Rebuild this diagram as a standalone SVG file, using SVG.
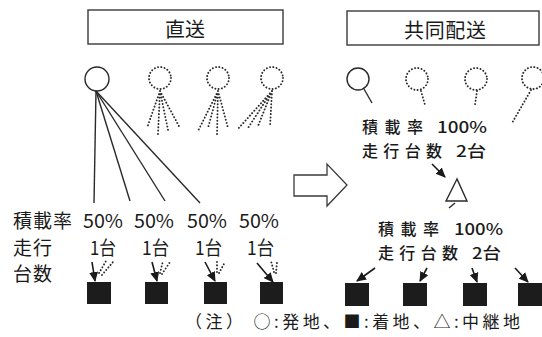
<svg xmlns="http://www.w3.org/2000/svg" width="542" height="337" viewBox="0 0 542 337">
<style>
  text { font-family: "Noto Sans CJK JP", "Noto Sans", sans-serif; fill: #1a1a1a; }
  .lbl { font-size: 19px; }
  .lbr { font-size: 16px; font-weight: 500; }
  .ttl { font-size: 20px; }
  .box { fill: #fff; stroke: #3a3a3a; stroke-width: 1.4; }
  .solid { fill: none; stroke: #2a2a2a; stroke-width: 1.4; }
  .dot { fill: none; stroke: #2a2a2a; stroke-width: 1.9; stroke-dasharray: 0.1 3.2; stroke-linecap: round; }
  .arr { fill: none; stroke: #1a1a1a; stroke-width: 1.6; marker-end: url(#ah); }
  .sq { fill: #1c1c1c; }
</style>
<defs>
  <marker id="ah" markerWidth="10" markerHeight="10" refX="9" refY="5" orient="auto" markerUnits="userSpaceOnUse">
    <path d="M0,0.5 L10,5 L0,9.5 Z" fill="#1a1a1a"/>
  </marker>
</defs>
<rect width="542" height="337" fill="#fff"/>

<g id="title-direct">
  <rect class="box" x="88" y="10" width="195" height="34"/>
  <text class="ttl" x="165" y="37" textLength="40" lengthAdjust="spacing">直送</text>
</g>
<g id="title-joint">
  <rect class="box" x="347" y="11" width="192" height="34"/>
  <text class="ttl" x="404" y="38" textLength="82" lengthAdjust="spacing">共同配送</text>
</g>

<!-- left side: origins -->
<g id="origin-left">
  <circle class="solid" cx="97" cy="79" r="12"/>
</g>
<g id="ghost-left-1">
  <circle class="dot" cx="160" cy="78" r="11"/>
  <path class="dot" d="M160,91 L147,128 M160,91 L158,134 M160,91 L168,130 M160,91 L180,128"/>
</g>
<g id="ghost-left-2">
  <circle class="dot" cx="218" cy="78" r="11"/>
  <path class="dot" d="M218,91 L198,131 M218,91 L208,128 M218,91 L217,134 M218,91 L228,128"/>
</g>
<g id="ghost-left-3">
  <circle class="dot" cx="272" cy="78" r="11"/>
  <path class="dot" d="M272,91 L237,130 M272,91 L248,128 M272,91 L258,126 M272,91 L270,127"/>
</g>

<!-- left destinations -->
<g id="dest-left-1"><rect class="sq" x="87" y="282" width="24" height="22"/></g>
<g id="dest-left-2"><rect class="sq" x="145" y="282" width="23" height="22"/></g>
<g id="dest-left-3"><rect class="sq" x="204" y="282" width="23" height="22"/></g>
<g id="dest-left-4"><rect class="sq" x="260" y="282" width="23" height="22"/></g>

<!-- left labels -->
<g id="labels-left">
  <text class="lbl" x="13" y="228" textLength="59" lengthAdjust="spacing">積載率</text>
  <text class="lbl" x="83" y="228" textLength="40" lengthAdjust="spacingAndGlyphs">50%</text>
  <text class="lbl" x="134" y="228" textLength="40" lengthAdjust="spacingAndGlyphs">50%</text>
  <text class="lbl" x="187" y="228" textLength="40" lengthAdjust="spacingAndGlyphs">50%</text>
  <text class="lbl" x="239" y="228" textLength="40" lengthAdjust="spacingAndGlyphs">50%</text>
  <text class="lbl" x="13" y="255" textLength="39" lengthAdjust="spacing">走行</text>
  <text class="lbl" x="90" y="255" textLength="26" lengthAdjust="spacingAndGlyphs">1台</text>
  <text class="lbl" x="142" y="255" textLength="27" lengthAdjust="spacingAndGlyphs">1台</text>
  <text class="lbl" x="195" y="255" textLength="27" lengthAdjust="spacingAndGlyphs">1台</text>
  <text class="lbl" x="247" y="255" textLength="27" lengthAdjust="spacingAndGlyphs">1台</text>
  <text class="lbl" x="13" y="281" textLength="39" lengthAdjust="spacing">台数</text>
</g>

<!-- right side -->
<g id="origin-right">
  <circle class="solid" cx="358" cy="79" r="11"/>
  <line class="solid" x1="364" y1="89" x2="372" y2="103"/>
</g>
<g id="ghost-right-1">
  <circle class="dot" cx="417" cy="79" r="11"/>
  <line class="dot" x1="421" y1="91" x2="425" y2="105"/>
</g>
<g id="ghost-right-2">
  <circle class="dot" cx="476" cy="79" r="11"/>
  <line class="dot" x1="477" y1="91" x2="475" y2="105"/>
</g>
<g id="ghost-right-3">
  <circle class="dot" cx="533" cy="78" r="11"/>
  <line class="dot" x1="531" y1="90" x2="512" y2="123"/>
</g>

<g id="labels-right-top">
  <text class="lbr" x="362" y="132.5" textLength="61" lengthAdjust="spacing">積載率</text>
  <text class="lbr" x="437" y="132.5" textLength="50" lengthAdjust="spacingAndGlyphs">100%</text>
  <text class="lbr" x="362" y="156.5" textLength="80" lengthAdjust="spacing">走行台数</text>
  <text class="lbr" x="456" y="156.5" textLength="30" lengthAdjust="spacingAndGlyphs">2台</text>
</g>

<g id="relay">
  <path class="solid" d="M457,179 L446,201 L467,201 Z"/>
</g>

<g id="labels-right-bottom">
  <text class="lbr" x="378" y="234.5" textLength="61" lengthAdjust="spacing">積載率</text>
  <text class="lbr" x="454" y="234.5" textLength="49" lengthAdjust="spacingAndGlyphs">100%</text>
  <text class="lbr" x="378" y="258.5" textLength="80" lengthAdjust="spacing">走行台数</text>
  <text class="lbr" x="472" y="258.5" textLength="29" lengthAdjust="spacingAndGlyphs">2台</text>
</g>

<g id="dest-right-1"><rect class="sq" x="345" y="283" width="24" height="23"/></g>
<g id="dest-right-2"><rect class="sq" x="403" y="283" width="24" height="23"/></g>
<g id="dest-right-3"><rect class="sq" x="463" y="283" width="24" height="23"/></g>
<g id="dest-right-4"><rect class="sq" x="518" y="283" width="24" height="23"/></g>

<g id="big-arrow">
  <path d="M294,175 L327,175 L327,164 L347,185 L327,206 L327,196 L294,196 Z" fill="#fff" stroke="#3a3a3a" stroke-width="1.3"/>
</g>

<!-- connectors -->
<g id="connectors">
  <line class="solid" x1="96" y1="91" x2="94" y2="203"/>
  <line class="solid" x1="96" y1="91" x2="130" y2="201"/>
  <line class="solid" x1="96" y1="91" x2="165" y2="201"/>
  <line class="solid" x1="96" y1="91" x2="200" y2="203"/>

  <line class="arr" x1="92" y1="262" x2="95" y2="281"/>
  <path class="dot" d="M99,273 L106,261 M102,275 L113,262"/>
  <line class="arr" x1="152" y1="262" x2="157" y2="281"/>
  <path class="dot" d="M160,273 L163,261 M162,274 L170,262"/>
  <line class="arr" x1="205" y1="262" x2="215" y2="281"/>
  <path class="dot" d="M217,272 L217,261 M219,273 L225,262"/>
  <line class="arr" x1="257" y1="263" x2="273" y2="282"/>
  <path class="dot" d="M274,272 L271,261 M276,273 L277,262"/>

  <line class="arr" x1="432" y1="164" x2="445" y2="177"/>
  <line class="solid" x1="455" y1="203" x2="449" y2="208"/>

  <line class="arr" x1="375" y1="268" x2="357" y2="281"/>
  <line class="arr" x1="427" y1="268" x2="420" y2="281"/>
  <line class="arr" x1="472" y1="268" x2="477" y2="282"/>
  <line class="arr" x1="515" y1="268" x2="528" y2="282"/>
</g>

<g id="note">
  <text x="185" y="328" font-size="17" textLength="335" lengthAdjust="spacing">（注） ○:発地、■:着地、△:中継地</text>
</g>
</svg>
